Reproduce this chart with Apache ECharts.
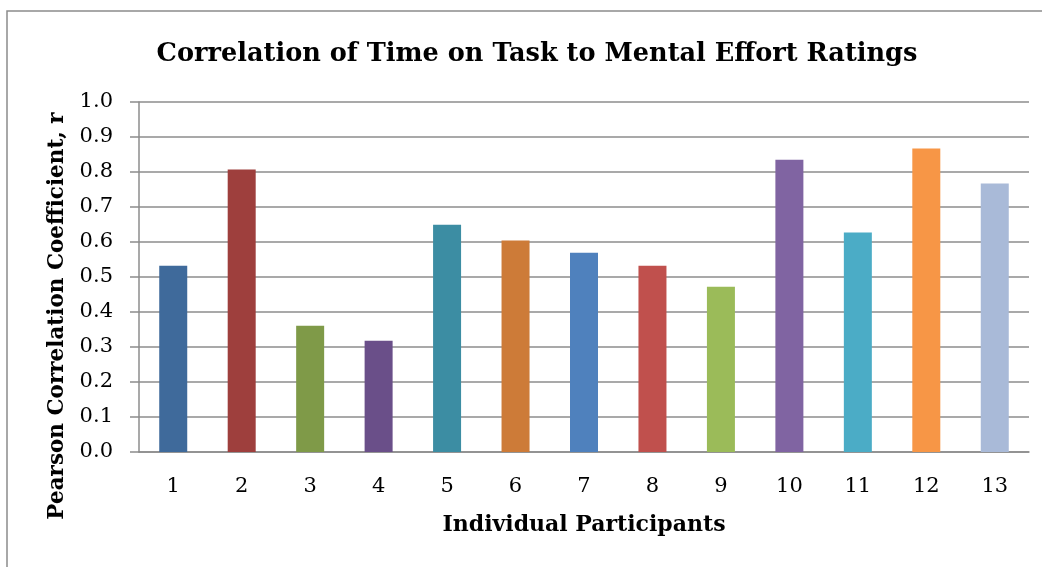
<!DOCTYPE html>
<html>
<head>
<meta charset="utf-8">
<script src="https://cdn.jsdelivr.net/npm/echarts@6/dist/echarts.min.js"></script>
<style>
  html, body { margin: 0; padding: 0; background: #fff; }
  #chart { width: 1042px; height: 567px; }
</style>
</head>
<body>
<div id="chart"></div>
<script>
// participants on the x axis
var participants = ['1', '2', '3', '4', '5', '6', '7', '8', '9', '10', '11', '12', '13'];
// pearson r per participant
var rValues = [0.532, 0.807, 0.361, 0.318, 0.649, 0.604, 0.569, 0.532, 0.472, 0.835, 0.627, 0.867, 0.767];
var barColors = ['#3F6A9B', '#9E3F3D', '#7F9A48', '#6A4F89', '#3C8DA3', '#CD7B38',
                 '#4F81BD', '#C0504D', '#9BBB59', '#8064A2', '#4BACC6', '#F79646', '#A9BAD8'];

var serif = '"DejaVu Serif", "Liberation Serif", serif';

var chart = echarts.init(document.getElementById('chart'));

var option = {
    backgroundColor: '#fff',
    animation: false,
    title: {
        text: 'Correlation of Time on Task to Mental Effort Ratings',
        left: 532,
        textAlign: 'center',
        top: 36,
        textStyle: { fontFamily: serif, fontSize: 25.6, fontWeight: 'bold', color: '#000' }
    },
    grid: { left: 139, right: 13, top: 102, bottom: 115 },
    xAxis: {
        type: 'category',
        data: participants,
        name: 'Individual Participants',
        nameLocation: 'middle',
        nameGap: 62,
        nameTextStyle: { fontFamily: serif, fontSize: 22, fontWeight: 'bold', color: '#000' },
        axisLine: { lineStyle: { color: '#8c8c8c', width: 1.5 } },
        axisTick: { show: false },
        axisLabel: { fontFamily: serif, fontSize: 21, color: '#000', margin: 24 }
    },
    yAxis: {
        type: 'value',
        min: 0,
        max: 1,
        interval: 0.1,
        axisLine: { show: true, lineStyle: { color: '#8c8c8c', width: 1.5 } },
        axisTick: { show: true, length: 9, lineStyle: { color: '#8c8c8c', width: 1.5 } },
        axisLabel: {
            fontFamily: serif, fontSize: 21, color: '#000', margin: 26,
            formatter: function (v) { return v.toFixed(1); }
        },
        splitLine: { lineStyle: { color: '#8c8c8c', width: 1.5 } }
    },
    series: [{
        type: 'bar',
        barWidth: 28,
        data: rValues.map(function (v, i) {
            return { value: v, itemStyle: { color: barColors[i] } };
        })
    }],
    graphic: [
        {
            type: 'rect',
            shape: { x: 7, y: 11, width: 1100, height: 600 },
            style: { fill: 'none', stroke: '#8c8c8c', lineWidth: 1.5 },
            silent: true
        },
        {
            type: 'text',
            x: 57,
            y: 316,
            rotation: Math.PI / 2,
            style: {
                text: 'Pearson Correlation Coefficient, r',
                fontFamily: serif, fontSize: 21.5, fontWeight: 'bold', fill: '#000',
                align: 'center', verticalAlign: 'middle'
            }
        }
    ]
};

chart.setOption(option);
</script>
</body>
</html>
